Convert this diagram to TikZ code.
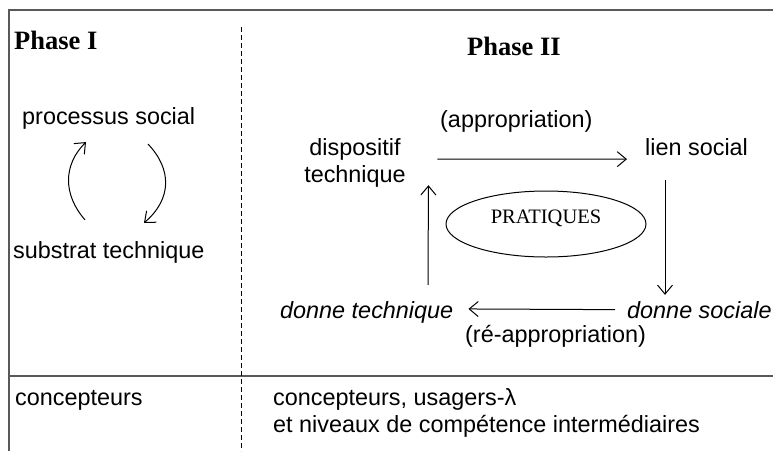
\documentclass[tikz,border=0pt]{standalone}
\usepackage{fontspec}
\setmainfont{Liberation Sans}
\newfontfamily\phasefont{Liberation Serif}
\usetikzlibrary{arrows.meta,shapes.geometric}

\begin{document}
\begin{tikzpicture}[x=1pt,y=-1pt]
                \tikzset{txt/.style={inner sep=0pt,font=\fontsize{23.4}{27}\selectfont},
                itxt/.style={txt,font=\fontsize{23.4}{27}\selectfont\itshape},
                phase/.style={inner sep=0pt,font=\phasefont\bfseries\fontsize{26.5}{30}\selectfont},
                arr/.style={-{Straight Barb[length=9pt,width=15pt]},line width=1pt},
                rule/.style={draw=black!65,line width=1.5pt}}
                
                \useasboundingbox (0,0) rectangle (773,451);
                \draw[rule] (9,451) -- (9,10) -- (773,10);
                \draw[rule] (9,376) -- (773,376);
                \draw[dash pattern=on 5pt off 3pt,line width=1pt] (241,27) -- (241,451);
                
                \node[phase,anchor=base west] (ph1) at (14,49) {Phase I};
                \node[phase,anchor=base west] (ph2) at (467,55) {Phase II};
                
                \node[txt,anchor=base west] (proc) at (22,124) {processus social};
                \node[txt,anchor=base west] (subs) at (13,258) {substrat technique};
                \draw[arr] ([shift={(72,-21)}]subs.north west) .. controls ([shift={(50,-46)}]subs.north west) and ([shift={(50,-76)}]subs.north west) .. ([shift={(64,13)}]proc.south west);
                \draw[arr] ([shift={(126,15)}]proc.south west) .. controls ([shift={(150,40)}]proc.south west) and ([shift={(150,70)}]proc.south west) .. ([shift={(131,-18)}]subs.north west);
                
                \node[txt,align=center,anchor=north] (disp) at (355,138) {dispositif\\technique};
                \node[txt,anchor=base west] (lien) at (645,155) {lien social};
                \node[itxt,anchor=base west] (dsoc) at (627,318) {donne sociale};
                \node[itxt,anchor=base west] (dtech) at (280,318) {donne technique};
                \node[txt,anchor=base west] (appr) at (440,127) {(appropriation)};
                \node[txt,anchor=base west] (reappr) at (465,342) {(ré-appropriation)};
                \node[ellipse,draw,line width=1pt,minimum width=200pt,minimum height=66pt] (prat) at (546,224) {};
                \node[inner sep=0pt,font=\phasefont\fontsize{20.5}{24}\selectfont] (pratlbl) at ([yshift=6pt]prat.center) {PRATIQUES};
                
                \draw[arr] ([shift={(31.5,-3.5)}]disp.east) -- ([shift={(-18,12.5)}]lien.west);
                \draw[arr] ([shift={(20,25)}]lien.south west) -- ([shift={(38,-6)}]dsoc.north west);
                \draw[arr] ([shift={(-12,0)}]dsoc.west) -- ([shift={(15,-3)}]dtech.east);
                \draw[arr] ([shift={(148,-16)}]dtech.north west) -- ([shift={(22.5,-2)}]disp.south east);
                
                \node[txt,anchor=base west] (conc1) at (15,405) {concepteurs};
                \node[txt,align=left,anchor=north west] (conc2) at (273,388) {concepteurs, usagers-λ\\et niveaux de compétence intermédiaires};
\end{tikzpicture}
\end{document}
